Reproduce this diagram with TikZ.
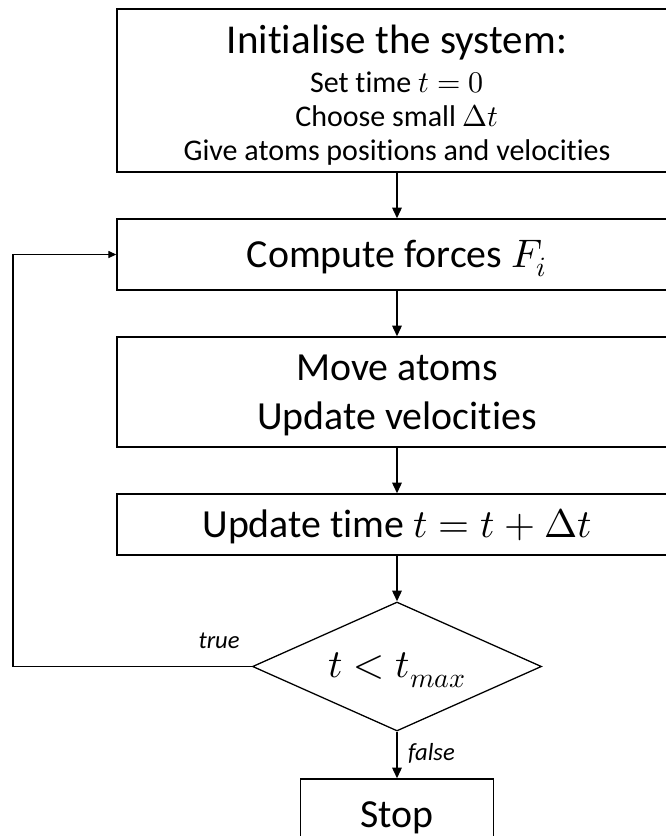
\documentclass[tikz,border=0pt]{standalone}
\usepackage{fontspec}
\usepackage{unicode-math}
\setmainfont{Carlito}[Ligatures=NoCommon]
\usetikzlibrary{arrows.meta, shapes.geometric}

\begin{document}
\begin{tikzpicture}[x=0.03cm, y=-0.03cm,
        box/.style={draw, line width=1.1pt, minimum width=16.8cm, inner sep=0pt, align=center, font=\fontsize{34}{41}\selectfont},
        flow/.style={-{Triangle[length=3.2mm, width=2.8mm]}, line width=1.7pt},
        lbl/.style={font=\fontsize{21}{25}\selectfont\itshape, inner sep=0pt}]
        \useasboundingbox (0,0) rectangle (665,836);
        \node[box, minimum height=4.89cm, text height=118.7pt, text depth=0pt, font=\fontsize{25.6}{29}\selectfont] (init) at (397,90.5) {{\fontsize{35}{41}\selectfont Initialise the system:}\\[4pt] Set time $t = 0$\\ Choose small $\Delta t$\\ Give atoms positions and velocities};
        \node[box, minimum height=2.13cm, text height=21.5pt, text depth=0pt] (forces) at (397,254.5) {Compute forces $F_i$};
        \node[box, minimum height=3.3cm, text height=63.2pt, text depth=0pt] (move) at (397,392) {Move atoms\\ Update velocities};
        \node[box, minimum height=1.83cm, text height=21.5pt, text depth=0pt] (update) at (397,524.5) {Update time $t = t + \Delta t$};
        \node[diamond, aspect=2.24, draw, line width=1.1pt, minimum width=8.67cm, minimum height=3.87cm, inner sep=0pt, text height=19.6pt, text depth=0pt, font=\fontsize{34}{41}\selectfont] (cond) at (397,666.5) {$t < t_{max}$};
        \node[box, minimum width=5.79cm, minimum height=2.13cm, text height=21.5pt, text depth=0pt] (stop) at (397,814.5) {Stop};
        \coordinate (back) at (13,254.5);
        \draw[flow] (init.south) -- (forces.north);
        \draw[flow] (forces.south) -- (move.north);
        \draw[flow] (move.south) -- (update.north);
        \draw[flow] (update.south) -- (cond.north);
        \draw[flow] (cond.south) -- (stop.north) node[lbl, midway, anchor=base west, xshift=0.3cm, yshift=-0.15cm] (falselbl) {false};
        \draw[line width=1.1pt, -{Triangle[length=2.4mm, width=2.1mm]}] (cond.west) -| (back) -- (forces.west);
        \node[lbl, anchor=base east] (truelbl) at ([xshift=-0.36cm, yshift=0.555cm]cond.west) {true};
    \end{tikzpicture}
\end{document}
